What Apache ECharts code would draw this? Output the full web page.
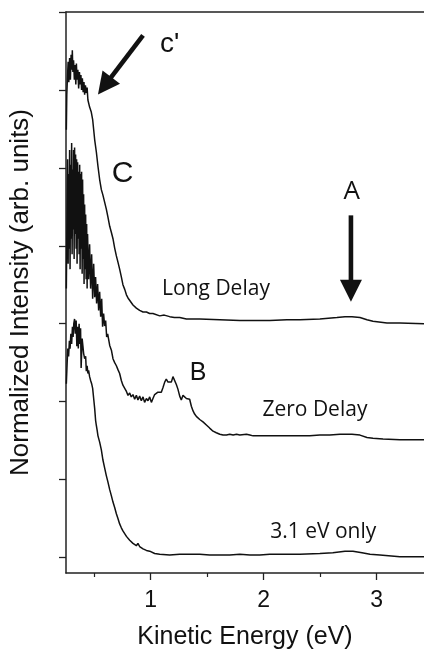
<!DOCTYPE html>
<html>
<head>
<meta charset="utf-8">
<script src="https://cdn.jsdelivr.net/npm/echarts@6/dist/echarts.min.js"></script>
<style>
  html, body { margin: 0; padding: 0; background: #fff; }
  #chart { width: 424px; height: 655px; }
</style>
</head>
<body>
<div id="chart"></div>
<script>
// [kinetic energy (eV), normalized intensity (arb. units, offset per trace)]
var longDelay = [
  [0.253, 5.49], [0.257, 5.94], [0.262, 6.13], [0.269, 6.36], [0.275, 6.10], [0.282, 6.41],
  [0.289, 6.13], [0.295, 6.45], [0.302, 6.26], [0.306, 6.51], [0.311, 6.23], [0.317, 6.38],
  [0.324, 6.13], [0.331, 6.32], [0.337, 6.07], [0.342, 6.34], [0.348, 6.13], [0.355, 6.26],
  [0.362, 6.02], [0.369, 6.23], [0.376, 6.07], [0.382, 6.19], [0.388, 6.00], [0.395, 6.15],
  [0.402, 5.97], [0.409, 6.10], [0.415, 5.94], [0.422, 6.06], [0.430, 5.96], [0.437, 6.03],
  [0.444, 5.87], [0.459, 5.78], [0.473, 5.72], [0.486, 5.62], [0.504, 5.36], [0.519, 5.20],
  [0.533, 5.02], [0.548, 4.85], [0.563, 4.72], [0.577, 4.65], [0.592, 4.56], [0.607, 4.47],
  [0.621, 4.37], [0.637, 4.25], [0.652, 4.17], [0.666, 4.09], [0.681, 3.97], [0.696, 3.87],
  [0.710, 3.79], [0.725, 3.70], [0.740, 3.60], [0.754, 3.50], [0.770, 3.44], [0.785, 3.37],
  [0.799, 3.33], [0.814, 3.31], [0.843, 3.24], [0.873, 3.20], [0.902, 3.17], [0.932, 3.15],
  [0.962, 3.15], [0.991, 3.13], [1.020, 3.13], [1.080, 3.10], [1.120, 3.11], [1.168, 3.09],
  [1.210, 3.08], [1.257, 3.08], [1.316, 3.06], [1.434, 3.06], [1.612, 3.05], [1.789, 3.04],
  [1.904, 3.04], [2.055, 3.04], [2.206, 3.05], [2.321, 3.05], [2.498, 3.06], [2.649, 3.08],
  [2.720, 3.09], [2.782, 3.09], [2.853, 3.08], [2.915, 3.05], [2.968, 3.03], [3.092, 3.01],
  [3.207, 3.01], [3.420, 3.00]
];

var zeroDelay = [
  [0.253, 3.45], [0.260, 4.60], [0.264, 5.11], [0.269, 3.77], [0.273, 4.92], [0.277, 3.96],
  [0.282, 5.23], [0.286, 3.70], [0.291, 5.04], [0.295, 4.09], [0.300, 5.32], [0.304, 3.89],
  [0.309, 4.98], [0.313, 4.21], [0.317, 5.23], [0.322, 3.83], [0.326, 5.26], [0.331, 4.15],
  [0.335, 5.17], [0.340, 3.96], [0.344, 5.11], [0.348, 3.77], [0.353, 5.07], [0.357, 4.09],
  [0.362, 4.95], [0.366, 3.89], [0.371, 5.04], [0.375, 3.70], [0.379, 4.92], [0.384, 3.96],
  [0.388, 4.95], [0.393, 3.64], [0.397, 4.85], [0.402, 3.83], [0.406, 4.66], [0.410, 3.51],
  [0.415, 4.53], [0.419, 3.70], [0.424, 4.40], [0.428, 3.57], [0.433, 4.28], [0.437, 3.45],
  [0.441, 4.15], [0.450, 3.57], [0.459, 4.02], [0.468, 3.45], [0.477, 3.89], [0.486, 3.32],
  [0.495, 3.77], [0.504, 3.34], [0.512, 3.60], [0.521, 3.26], [0.530, 3.51], [0.539, 3.17],
  [0.548, 3.41], [0.557, 3.09], [0.566, 3.32], [0.574, 2.96], [0.583, 3.13], [0.592, 2.97],
  [0.601, 3.04], [0.610, 2.83], [0.619, 2.87], [0.637, 2.72], [0.652, 2.66], [0.666, 2.55],
  [0.681, 2.50], [0.696, 2.46], [0.710, 2.41], [0.725, 2.36], [0.740, 2.27], [0.754, 2.21],
  [0.770, 2.17], [0.785, 2.13], [0.799, 2.08], [0.814, 2.11], [0.828, 2.06], [0.843, 2.09],
  [0.858, 2.03], [0.873, 2.08], [0.887, 2.02], [0.902, 2.07], [0.917, 2.01], [0.932, 2.06],
  [0.946, 1.99], [0.962, 2.04], [0.976, 2.01], [0.991, 2.06], [1.006, 1.99], [1.020, 2.04],
  [1.035, 2.09], [1.050, 2.07], [1.064, 2.12], [1.080, 2.14], [1.094, 2.12], [1.109, 2.18],
  [1.124, 2.25], [1.138, 2.29], [1.153, 2.25], [1.168, 2.27], [1.183, 2.25], [1.197, 2.32],
  [1.212, 2.30], [1.227, 2.22], [1.241, 2.16], [1.257, 2.07], [1.271, 2.02], [1.286, 2.08],
  [1.301, 2.09], [1.316, 2.04], [1.330, 2.06], [1.345, 2.03], [1.360, 1.94], [1.375, 1.88],
  [1.389, 1.84], [1.404, 1.81], [1.419, 1.80], [1.434, 1.77], [1.463, 1.74], [1.493, 1.70],
  [1.522, 1.66], [1.552, 1.62], [1.581, 1.60], [1.612, 1.58], [1.641, 1.57], [1.671, 1.57],
  [1.700, 1.58], [1.730, 1.57], [1.760, 1.58], [1.789, 1.57], [1.848, 1.58], [1.878, 1.57],
  [1.907, 1.56], [1.966, 1.56], [2.055, 1.56], [2.143, 1.56], [2.232, 1.56], [2.321, 1.56],
  [2.409, 1.56], [2.498, 1.57], [2.586, 1.57], [2.676, 1.58], [2.720, 1.58], [2.782, 1.58],
  [2.853, 1.57], [2.915, 1.54], [2.968, 1.53], [3.057, 1.52], [3.207, 1.51], [3.420, 1.51]
];

var pumpOnly = [
  [0.253, 2.23], [0.260, 2.49], [0.266, 2.68], [0.273, 2.58], [0.280, 2.78], [0.286, 2.68],
  [0.293, 2.87], [0.300, 2.74], [0.307, 2.96], [0.313, 2.83], [0.319, 3.00], [0.326, 3.06],
  [0.332, 2.87], [0.340, 3.04], [0.346, 2.71], [0.353, 2.96], [0.359, 2.68], [0.366, 3.00],
  [0.372, 2.74], [0.379, 2.94], [0.384, 2.43], [0.393, 2.81], [0.400, 2.71], [0.406, 2.62],
  [0.415, 2.55], [0.424, 2.58], [0.430, 2.39], [0.437, 2.46], [0.444, 2.36], [0.450, 2.40],
  [0.459, 2.32], [0.468, 2.27], [0.477, 2.23], [0.486, 2.17], [0.495, 2.04], [0.504, 1.91],
  [0.512, 1.76], [0.519, 1.69], [0.526, 1.63], [0.533, 1.56], [0.548, 1.48], [0.563, 1.38],
  [0.577, 1.25], [0.592, 1.15], [0.607, 1.05], [0.621, 0.97], [0.637, 0.87], [0.652, 0.79],
  [0.666, 0.71], [0.681, 0.64], [0.696, 0.56], [0.710, 0.50], [0.725, 0.43], [0.740, 0.38],
  [0.754, 0.34], [0.785, 0.27], [0.814, 0.22], [0.843, 0.18], [0.873, 0.15], [0.887, 0.18],
  [0.902, 0.14], [0.932, 0.11], [0.962, 0.09], [0.991, 0.08], [1.035, 0.05], [1.080, 0.04],
  [1.168, 0.03], [1.257, 0.04], [1.345, 0.04], [1.434, 0.04], [1.522, 0.03], [1.612, 0.03],
  [1.700, 0.03], [1.789, 0.04], [1.878, 0.03], [1.966, 0.03], [2.055, 0.04], [2.188, 0.04],
  [2.321, 0.04], [2.498, 0.05], [2.613, 0.06], [2.720, 0.08], [2.791, 0.08], [2.871, 0.06],
  [2.942, 0.04], [3.030, 0.03], [3.207, 0.01], [3.420, 0.01]
];

var xMajorTicks = [1, 2, 3];
var xMinorTicks = [0.5, 1.5, 2.5];
var yTicks = [0, 1, 2, 3, 4, 5, 6, 7];

// annotation anchors in data coordinates
var labels = [
  { text: "c'", at: [1.168, 6.59], font: '28px "Liberation Sans"' },
  { text: 'C', at: [0.752, 4.93], font: '30px "Liberation Sans"' },
  { text: 'B', at: [1.419, 2.36], font: '25px "Liberation Sans"' },
  { text: 'A', at: [2.779, 4.69], font: '26px "Open Sans"' },
  { text: 'Long Delay', at: [1.578, 3.44], font: '21px "Open Sans"' },
  { text: 'Zero Delay', at: [2.454, 1.89], font: '21px "Open Sans"' },
  { text: '3.1 eV only', at: [2.528, 0.33], font: '21px "Open Sans"' }
];
var arrows = [
  { from: [0.932, 6.70], to: [0.533, 5.94] },
  { from: [2.773, 4.39], to: [2.773, 3.28] }
];

var dom = document.getElementById('chart');
var myChart = echarts.init(dom, null, { renderer: 'canvas' });

var axisColor = '#222';
var font = 'Liberation Sans';

function lineSeries(name, data) {
  return {
    name: name,
    type: 'line',
    data: data,
    showSymbol: false,
    symbol: 'none',
    clip: true,
    lineStyle: { color: '#111', width: 1.5 }
  };
}

var option = {
  animation: false,
  backgroundColor: '#fff',
  grid: { left: 66, right: 0, top: 12, bottom: 80 },
  xAxis: [
    {
      type: 'value',
      min: 0.25,
      max: 3.42,
      position: 'bottom',
      axisLine: { onZero: false, lineStyle: { color: axisColor, width: 1.5 } },
      axisTick: { customValues: xMajorTicks, length: 7, lineStyle: { color: axisColor, width: 1.3 } },
      axisLabel: { customValues: xMajorTicks, fontSize: 23, fontFamily: font, color: '#111', margin: 16 },
      splitLine: { show: false },
      name: 'Kinetic Energy (eV)',
      nameLocation: 'middle',
      nameGap: 52,
      nameTextStyle: { fontSize: 25, fontFamily: font, color: '#111' }
    },
    {
      type: 'value',
      min: 0.25,
      max: 3.42,
      position: 'bottom',
      axisLine: { show: false, onZero: false },
      axisTick: { customValues: xMinorTicks, length: 4, lineStyle: { color: axisColor, width: 1.2 } },
      axisLabel: { show: false },
      splitLine: { show: false }
    },
    {
      type: 'value',
      min: 0.25,
      max: 3.42,
      position: 'top',
      axisLine: { onZero: false, lineStyle: { color: axisColor, width: 1.5 } },
      axisTick: { show: false },
      axisLabel: { show: false },
      splitLine: { show: false }
    }
  ],
  yAxis: {
    type: 'value',
    min: -0.2,
    max: 7,
    axisLine: { show: true, onZero: false, lineStyle: { color: axisColor, width: 1.5 } },
    axisTick: { show: true, customValues: yTicks, length: 7, lineStyle: { color: axisColor, width: 1.3 } },
    axisLabel: { show: false },
    splitLine: { show: false },
    name: 'Normalized Intensity (arb. units)',
    nameLocation: 'middle',
    nameGap: 32,
    nameTextStyle: { fontSize: 26, fontFamily: font, color: '#111' }
  },
  series: [
    lineSeries('Long Delay', longDelay),
    lineSeries('Zero Delay', zeroDelay),
    lineSeries('3.1 eV only', pumpOnly)
  ]
};

myChart.setOption(option);

function toPx(p) {
  return myChart.convertToPixel({ xAxisIndex: 0, yAxisIndex: 0 }, p);
}

function arrowShapes(a) {
  var p0 = toPx(a.from), p1 = toPx(a.to);
  var dx = p1[0] - p0[0], dy = p1[1] - p0[1];
  var len = Math.sqrt(dx * dx + dy * dy);
  var ux = dx / len, uy = dy / len;
  var headLen = 22, headHalf = 11;
  var bx = p1[0] - ux * headLen, by = p1[1] - uy * headLen;
  return [
    {
      type: 'line',
      shape: { x1: p0[0], y1: p0[1], x2: bx + ux * 2, y2: by + uy * 2 },
      style: { stroke: '#111', lineWidth: 4.6 },
      z: 100
    },
    {
      type: 'polygon',
      shape: { points: [[p1[0], p1[1]], [bx - uy * headHalf, by + ux * headHalf], [bx + uy * headHalf, by - ux * headHalf]] },
      style: { fill: '#111' },
      z: 100
    }
  ];
}

var graphics = [];
labels.forEach(function (l) {
  var p = toPx(l.at);
  graphics.push({
    type: 'text',
    x: p[0],
    y: p[1],
    z: 100,
    style: { text: l.text, font: l.font, fill: '#111', align: 'center', verticalAlign: 'middle' }
  });
});
arrows.forEach(function (a) {
  graphics = graphics.concat(arrowShapes(a));
});

myChart.setOption({ graphic: graphics });

window.addEventListener('resize', myChart.resize);
</script>
</body>
</html>
